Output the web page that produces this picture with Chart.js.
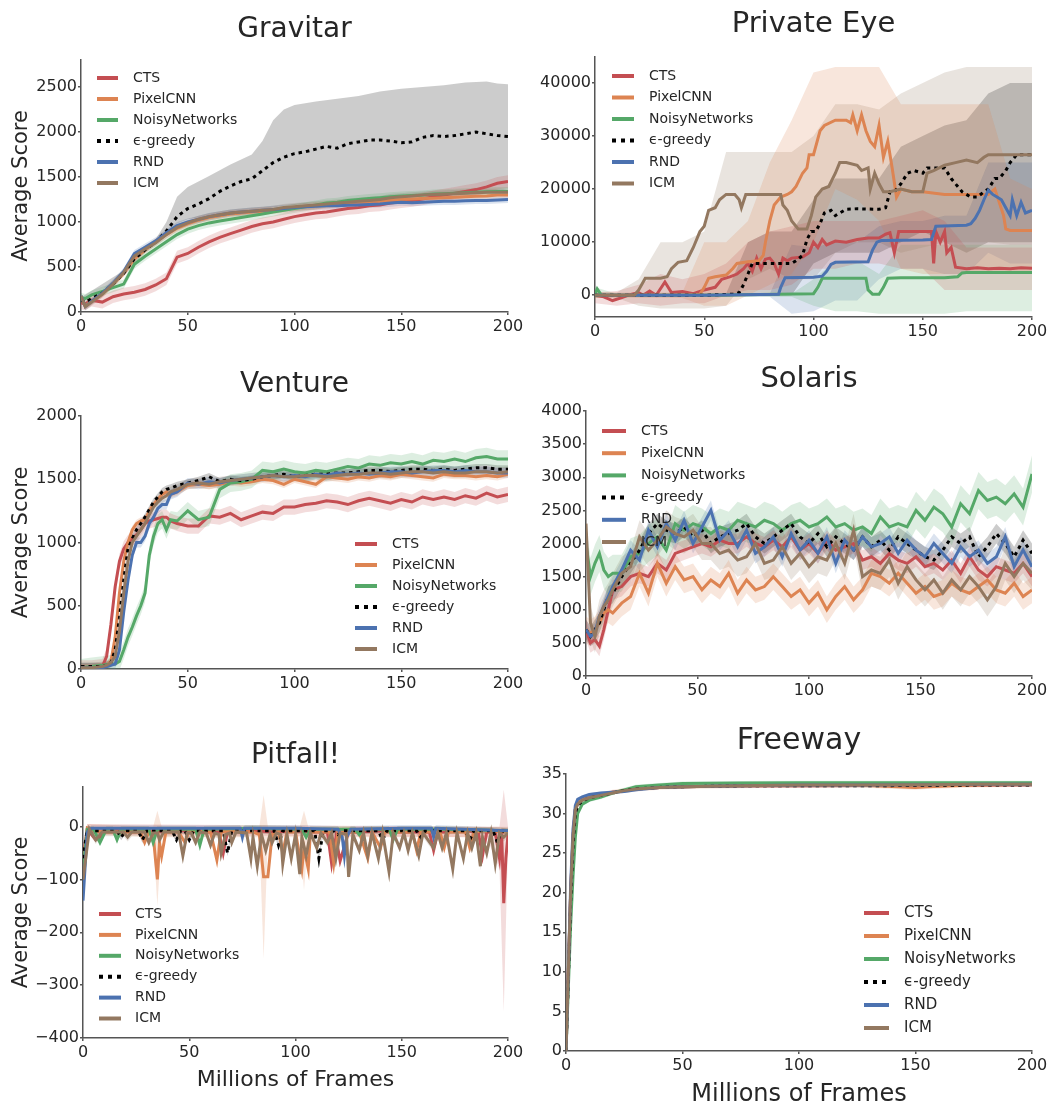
<!DOCTYPE html>
<html>
<head>
<meta charset="utf-8">
<script src="https://cdn.jsdelivr.net/npm/chart.js@4.4.0/dist/chart.umd.min.js"></script>
<style>
  body { margin: 0; background: #fff; }
  #wrap { position: relative; width: 1063px; height: 1111px; }
  canvas { position: absolute; }
</style>
</head>
<body>
<div id="wrap">
  <canvas id="gravitar" width="530" height="345" style="left:0;top:0"></canvas>
  <canvas id="privateeye" width="533" height="345" style="left:530px;top:0"></canvas>
  <canvas id="venture" width="530" height="345" style="left:0;top:355px"></canvas>
  <canvas id="solaris" width="533" height="345" style="left:530px;top:355px"></canvas>
  <canvas id="pitfall" width="530" height="406" style="left:0;top:705px"></canvas>
  <canvas id="freeway" width="533" height="406" style="left:530px;top:705px"></canvas>
</div>
<script>
// series shared by every panel
const seriesNames = ["CTS", "PixelCNN", "NoisyNetworks", "ϵ-greedy", "RND", "ICM"];
const seriesColors = ["#C44E52", "#DD8452", "#55A868", "#000000", "#4C72B0", "#937860"];
const xTicks = [0, 50, 100, 150, 200];

//GRAVITAR
const gravX = [0,2,5,10,15,20,25,30,35,40,45,50,55,60,65,70,75,80,85,90,95,100,105,110,115,120,125,130,135,140,145,150,155,160,165,170,175,180,185,190,195,200];
const gravCTS = [100,90,130,110,170,200,220,250,300,370,610,650,720,780,830,870,910,950,980,1000,1030,1060,1080,1100,1110,1130,1150,1160,1180,1190,1210,1225,1240,1255,1280,1300,1320,1340,1360,1390,1430,1450];
const gravPixel = [150,70,120,200,310,430,590,690,780,860,930,980,1020,1050,1070,1090,1100,1110,1120,1130,1140,1160,1170,1180,1190,1200,1210,1215,1220,1230,1240,1250,1255,1260,1265,1270,1275,1280,1285,1290,1300,1300];
const gravNoisy = [160,150,190,230,270,310,530,620,700,780,860,920,960,990,1010,1030,1050,1070,1090,1110,1130,1150,1170,1190,1210,1220,1240,1250,1260,1270,1280,1290,1295,1300,1310,1315,1320,1325,1330,1335,1340,1340];
const gravEps = [130,110,150,210,310,430,590,690,780,900,1060,1150,1200,1260,1340,1400,1450,1480,1570,1660,1720,1760,1780,1810,1840,1820,1870,1890,1910,1910,1900,1880,1890,1940,1960,1950,1960,1980,2000,1980,1960,1950];
const gravRND = [180,60,120,210,320,450,650,720,790,880,960,1000,1030,1060,1080,1100,1110,1120,1130,1140,1150,1160,1170,1175,1180,1180,1185,1190,1195,1200,1210,1220,1215,1220,1225,1230,1230,1235,1240,1240,1245,1250];
const gravICM = [180,60,110,200,310,440,620,700,770,860,940,990,1030,1060,1080,1100,1110,1120,1130,1140,1160,1170,1180,1190,1200,1210,1220,1230,1240,1250,1270,1280,1290,1300,1305,1310,1315,1320,1325,1330,1330,1330];
const gravEpsBandX = [0,20,30,35,40,45,50,60,70,80,85,90,95,100,110,120,130,140,150,160,170,180,190,195,200];
const gravEpsHi = [160,460,720,810,1000,1280,1390,1510,1640,1750,1900,2130,2250,2300,2340,2370,2400,2450,2480,2500,2520,2550,2560,2540,2530];
const gravEpsLo = [100,400,660,750,860,980,1030,1070,1100,1120,1140,1160,1180,1190,1210,1230,1260,1280,1300,1310,1320,1330,1340,1350,1360];
const gravSpread = [70, 40, 50, 0, 40, 40];
const gravYTicks = [0, 500, 1000, 1500, 2000, 2500];

//PRIVATE EYE
const peCTSX = [0,4,8,12,15,20,22,25,28,32,35,40,45,50,55,58,62,65,68,70,72,74,76,78,80,82,84,86,88,90,95,98,100,102,104,106,110,115,120,125,130,133,135,137,139,145,150,154,155,156,158,160,161,163,165,170,175,180,185,190,195,200];
const peCTS = [0,-300,-1000,-500,0,500,0,800,0,2500,500,700,300,1000,1500,3000,3500,4000,5000,6000,4500,7000,5000,6800,7000,6000,4000,7000,6500,7000,7200,8000,10000,9000,10500,9500,10200,10000,10500,10800,10800,11500,11800,8000,12000,12000,12000,12000,6000,12000,10000,12000,8000,9000,5300,5000,5200,5000,5100,5000,5200,5100];
const pePixelX = [0,10,20,30,40,48,50,52,55,60,63,65,70,75,77,78,80,82,85,88,90,92,95,97,98,100,103,105,110,115,117,118,120,122,124,126,128,130,132,134,136,138,140,145,150,160,170,180,183,185,187,188,190,195,200];
const pePixel = [0,0,0,0,0,200,1500,3200,3500,3800,5000,6000,6300,6500,7500,10000,14000,17000,18500,19000,19500,20500,23000,24000,26500,26500,31000,32000,33000,33000,32500,34000,31000,34000,31000,29000,28000,32000,26000,29000,24000,18500,20000,19500,19500,19000,19000,19000,20000,17500,15000,12500,12200,12200,12200];
const peNoisyX = [0,1,3,10,50,100,102,104,110,120,124,125,127,130,132,134,140,160,166,168,170,180,190,200];
const peNoisy = [200,1200,0,0,0,300,1500,3200,3200,3200,3200,1000,200,200,1500,3200,3300,3300,3500,4200,4300,4300,4300,4300];
const peEpsX = [0,10,50,64,66,68,70,72,75,90,92,95,97,99,101,103,105,108,110,112,115,120,130,133,135,137,140,143,146,150,152,155,160,163,165,168,172,175,178,180,183,185,188,190,193,195,200];
const peEps = [0,0,0,200,500,2000,4000,6000,6000,6000,6500,7500,10500,12000,12000,13500,15500,16000,15000,15500,16200,16300,16200,16500,19500,19500,21000,23000,23500,23000,24000,24000,24000,22000,21000,19500,18500,18500,19500,20000,22000,22000,23500,25000,26500,26500,26500];
const peRNDX = [0,10,50,84,85,87,100,104,106,108,110,125,127,129,131,150,154,156,170,172,174,176,178,180,182,184,186,188,190,191,193,195,197,200];
const peRND = [0,0,0,200,1500,3300,3400,3600,4500,5800,6200,6300,8500,10000,10300,10400,10500,13000,13200,13500,14500,16000,18000,19800,19000,18500,18000,16500,15000,18000,15000,17500,15500,16000];
const peICMX = [0,18,20,23,30,33,35,38,42,45,48,50,52,55,57,60,64,66,67,69,75,85,86,88,90,93,97,99,101,104,107,110,112,115,120,122,125,126,128,130,132,135,140,145,150,152,155,160,165,170,175,178,180,190,200];
const peICM = [0,0,1000,3200,3200,3500,5000,6200,6500,9000,12000,13000,16000,16500,18000,19000,19000,18000,16500,19000,19000,19000,17000,16000,14000,12500,12500,15000,18500,20000,20500,23000,25000,25000,24500,23500,24000,20000,23000,21000,19500,19500,20000,19500,19500,23000,23500,24500,25000,25500,25000,26000,26500,26500,26500];
const peBandX = [0,10,20,30,40,50,60,70,80,90,100,110,120,130,140,150,160,170,180,190,200];
const peCTSHi = [500,800,2000,4000,3000,4000,6000,10000,12000,13000,14000,14000,14000,14000,15000,16000,14000,9000,9000,9000,9000];
const peCTSLo = [-1500,-2000,-1500,-2000,-1500,-1500,0,1000,1000,2000,5000,5000,6000,6000,5000,5000,1000,1000,1000,1000,1000];
const pePixelHi = [500,500,500,500,500,10000,10000,14000,25000,33000,42000,43000,43000,43000,36000,36000,36000,36000,36000,22000,20000];
const pePixelLo = [-500,-500,-500,-500,-500,-2000,-2000,0,2000,4000,10000,20000,18000,14000,5000,4000,4000,4000,4000,4000,4000];
const peNoisyHi = [1500,300,300,300,300,300,300,300,300,300,3000,6500,6500,4000,9500,9500,9500,9500,9500,9500,9500];
const peNoisyLo = [-500,-300,-300,-300,-300,-300,-300,-300,-300,-300,-2000,-3000,-3000,-3500,-3500,-3500,-3500,-3000,-3000,-3000,-3000];
const peEpsHi = [300,300,300,300,300,300,300,10000,12000,12000,18000,22000,22000,22000,28000,30000,32000,33000,38000,40000,40000];
const peEpsLo = [-300,-300,-300,-300,-300,-300,-300,0,0,0,6000,8000,8000,8000,10000,12000,10000,8000,10000,10000,10000];
const peRNDHi = [300,300,300,300,300,300,300,300,300,9500,9000,10000,10000,13000,14000,14000,15000,15000,25000,25000,25000];
const peRNDLo = [-300,-300,-300,-300,-300,-300,-300,-300,-300,-3500,-3000,-1000,-1000,3000,5000,5000,4000,4000,8000,6000,6000];
const peICMHi = [500,500,3000,10000,10000,12000,27000,27000,27000,27000,30000,36000,36000,35000,38000,40000,42000,43000,43000,43000,43000];
const peICMLo = [-500,-500,-2000,-2500,-2500,-2500,-2000,3000,5000,3000,3000,8000,10000,10000,8000,9000,10000,10000,10000,9500,9500];
const peYTicks = [0, 10000, 20000, 30000, 40000];

//VENTURE
const ventX = [0,5,10,12,14,16,18,20,22,24,26,28,30,32,34,36,38,40,42,45,50,55,60,65,70,75,80,85,90,95,100,105,110,115,120,125,130,135,140,145,150,155,160,165,170,175,180,185,190,195,200];
const ventCTS = [10,10,20,100,350,650,850,950,1000,1030,1060,1100,1150,1170,1180,1190,1200,1200,1170,1150,1130,1130,1210,1200,1230,1180,1210,1240,1230,1280,1280,1300,1310,1330,1320,1300,1330,1350,1330,1310,1340,1320,1360,1340,1360,1340,1370,1350,1390,1360,1380];
const ventPixel = [10,10,20,30,60,250,600,850,1000,1100,1150,1170,1180,1250,1300,1340,1380,1400,1380,1400,1450,1460,1450,1460,1480,1470,1480,1500,1490,1460,1500,1480,1460,1520,1510,1500,1520,1510,1530,1520,1540,1530,1520,1510,1540,1530,1530,1520,1530,1520,1540];
const ventNoisy = [10,20,30,35,40,40,60,150,250,330,420,500,600,900,1050,1150,1180,1100,1180,1170,1250,1180,1200,1420,1470,1480,1500,1570,1560,1580,1560,1550,1570,1560,1580,1600,1590,1620,1610,1630,1620,1640,1620,1650,1640,1660,1640,1670,1680,1660,1660];
const ventEps = [20,20,20,30,50,150,400,700,950,1030,1100,1150,1200,1260,1320,1360,1400,1420,1430,1450,1470,1490,1520,1480,1500,1490,1500,1520,1530,1540,1520,1530,1540,1540,1550,1550,1560,1570,1570,1560,1570,1580,1580,1570,1580,1570,1580,1590,1590,1580,1580];
const ventRND = [10,10,10,20,30,40,150,450,700,900,1000,1000,1050,1150,1200,1270,1300,1300,1380,1400,1470,1460,1480,1470,1490,1500,1510,1520,1530,1520,1530,1520,1540,1530,1550,1540,1550,1540,1550,1560,1560,1550,1560,1570,1570,1560,1570,1560,1560,1550,1550];
const ventICM = [10,10,20,30,50,100,300,600,850,1000,1050,1100,1150,1220,1280,1320,1350,1370,1400,1420,1460,1470,1460,1480,1490,1500,1510,1520,1530,1520,1520,1530,1530,1520,1530,1540,1540,1550,1550,1540,1550,1560,1560,1550,1560,1550,1550,1560,1560,1550,1560];
const ventSpread = [60, 30, 70, 30, 40, 40];
const ventYTicks = [0, 500, 1000, 1500, 2000];

//SOLARIS
const solX = [0,2,4,6,8,10,12,16,20,24,28,32,36,40,44,48,52,56,60,64,68,72,76,80,84,88,92,96,100,104,108,112,116,120,124,128,132,136,140,144,148,152,156,160,164,168,172,176,180,184,188,192,196,200];
const solCTS = [700,500,550,450,700,1000,1300,1350,1500,1550,1500,1700,1600,1850,1900,1950,2000,1950,2050,2000,2000,2100,2000,1950,2050,1950,2100,1900,2000,1850,2050,1900,1950,2000,1750,1800,1700,1850,1750,1700,1800,1650,1700,1600,1750,1550,1800,1600,1500,1650,1600,1550,1700,1500];
const solPixel = [700,650,700,800,950,1000,950,1100,1200,1550,1250,1700,1400,1650,1450,1500,1300,1450,1350,1550,1250,1450,1300,1350,1500,1350,1200,1300,1100,1250,1000,1200,1350,1150,1300,1550,1500,1400,1550,1400,1250,1350,1200,1250,1400,1300,1250,1350,1450,1300,1250,1400,1200,1300];
const solNoisy = [2000,1500,1700,1850,1600,1500,1550,1550,1800,1850,2000,2100,1900,2300,2200,2300,2250,2150,2250,2200,2350,2300,2250,2350,2300,2200,2300,2350,2250,2300,2400,2250,2300,2200,2250,2150,2400,2250,2300,2250,2500,2350,2550,2450,2250,2600,2450,2800,2650,2700,2600,2750,2550,3050];
const solEps = [700,600,700,800,1000,1200,1250,1500,1700,1900,2150,2300,2200,2150,2250,2100,2200,2000,2100,2150,2200,2300,2100,2000,2100,2200,2300,2100,2000,2150,1950,2100,2000,1900,2100,1950,2050,1900,2100,2000,1900,1800,1750,1900,2100,2000,2100,1800,1950,2150,2000,1800,2050,1850];
const solRND = [700,600,650,900,1050,1200,1350,1600,1900,1750,2200,1950,2300,2050,2350,2000,2250,2500,2050,2200,1950,2200,1850,1950,2100,1800,2150,1900,2050,1850,2100,1700,2050,1900,2100,1950,2000,2100,1850,2050,1900,1800,2000,1850,1700,1950,1800,1900,1700,1800,2100,1650,1900,1650];
const solICM = [2300,800,600,900,1050,1150,1300,1550,1650,2100,1900,2050,2250,2150,2100,2200,2000,2000,1850,1900,1750,1800,2000,1700,1750,1950,1700,1850,1650,1800,1750,2000,1700,2200,1500,1600,1550,1750,1400,1650,1450,1300,1450,1250,1450,1300,1500,1350,1150,1350,1700,1500,1700,1550];
const solSpread = [150, 200, 280, 150, 150, 250];
const solYTicks = [0, 500, 1000, 1500, 2000, 2500, 3000, 3500, 4000];

//PITFALL
const pitCTSX = [0,2,4,6,8,10,20,30,40,50,60,64,66,68,70,80,90,100,110,115,117,119,121,125,130,140,150,160,163,165,167,170,180,186,188,190,194,196,197,198,199,200];
const pitCTS = [-60,-5,-15,-25,-20,-8,-8,-10,-8,-8,-10,-10,-50,-10,-8,-8,-10,-8,-10,-10,-70,-20,-65,-10,-10,-8,-10,-10,-10,-45,-10,-10,-8,-10,-55,-10,-10,-60,-10,-145,-60,-15];
const pitPixelX = [0,2,4,10,20,27,29,31,33,35,36,37,39,45,48,50,60,63,65,70,80,83,85,87,89,92,94,96,100,103,104,106,107,110,116,118,120,130,134,136,140,142,150,155,157,159,168,170,172,180,182,184,190,200];
const pitPixel = [-80,-3,-8,-10,-10,-10,-30,-10,-15,-100,-30,-55,-10,-10,-30,-8,-10,-63,-10,-8,-10,-15,-95,-95,-15,-10,-50,-10,-10,-80,-40,-80,-10,-10,-10,-70,-10,-10,-60,-10,-40,-10,-10,-10,-45,-10,-10,-40,-10,-10,-40,-10,-8,-10];
const pitNoisyX = [0,2,5,8,11,14,16,18,25,31,33,35,50,53,55,57,80,100,103,105,107,125,128,130,132,144,146,148,170,200];
const pitNoisy = [-80,-5,-5,-30,-5,-5,-25,-5,-5,-5,-30,-5,-5,-5,-35,-5,-3,-5,-5,-20,-5,-5,-5,-15,-5,-5,-25,-5,-5,-8];
const pitEpsX = [0,2,5,16,18,20,26,28,30,42,44,46,48,50,52,66,68,70,90,92,94,109,111,113,118,120,122,139,141,143,157,159,161,180,182,184,193,195,197,200];
const pitEps = [-60,-5,-8,-8,-20,-8,-8,-25,-8,-8,-25,-8,-8,-25,-8,-8,-50,-8,-8,-35,-8,-8,-60,-8,-8,-15,-8,-8,-25,-8,-8,-20,-8,-8,-25,-8,-8,-30,-8,-10];
const pitRNDX = [0,2,4,20,40,60,74,75,76,100,120,122,123,124,126,150,164,165,166,200];
const pitRND = [-140,-10,-3,-3,-3,-3,-3,-20,-3,-3,-5,-20,-55,-20,-5,-3,-3,-20,-3,-8];
const pitICMX = [0,3,6,9,19,21,23,29,31,33,35,36,38,45,47,49,51,53,55,58,60,62,64,65,67,69,70,72,77,79,80,82,84,86,88,89,91,93,94,96,98,100,102,103,105,107,110,112,115,117,119,121,124,125,127,130,132,134,136,139,141,144,146,149,151,153,155,158,160,165,167,169,171,174,176,179,181,183,185,187,188,190,192,194,196,198,200];
const pitICM = [-100,-5,-25,-10,-10,-20,-10,-10,-30,-12,-12,-25,-10,-10,-55,-12,-12,-30,-10,-12,-35,-12,-15,-50,-15,-12,-30,-10,-12,-60,-20,-75,-15,-45,-15,-30,-12,-15,-70,-15,-60,-15,-90,-20,-55,-12,-40,-12,-30,-12,-60,-12,-15,-95,-15,-45,-12,-55,-12,-60,-12,-85,-12,-40,-12,-45,-12,-55,-12,-40,-12,-40,-12,-80,-12,-60,-12,-40,-12,-75,-20,-50,-12,-70,-12,-20,-12];
const pitPixelBandX = [0,2,33,35,37,83,85,87,102,104,106,200];
const pitPixelHi = [-60,5,0,30,0,0,60,0,0,30,0,0];
const pitPixelLo = [-100,-15,-20,-150,-20,-20,-250,-20,-20,-120,-20,-20];
const pitCTSBandX = [0,2,190,196,198,200];
const pitCTSHi = [-40,5,0,0,70,0];
const pitCTSLo = [-80,-15,-20,-80,-350,-30];
const pitSpread = [0, 0, 6, 6, 6, 8];
const pitYTicks = [-400, -300, -200, -100, 0];

//FREEWAY
const freeX = [0,1,2,3,4,5,7,10,15,20,25,30,40,50,75,100,125,150,155,175,200];
const freeCTS = [0,10,20,27,30.5,31.3,31.8,32.1,32.4,32.7,32.9,33.1,33.3,33.4,33.5,33.5,33.55,33.6,33.6,33.6,33.65];
const freePixel = [0,10,20,27,30.5,31.3,31.8,32.1,32.4,32.7,32.9,33.1,33.3,33.4,33.5,33.6,33.6,33.3,33.4,33.6,33.7];
const freeNoisy = [0,8,16,22,27,30,31.2,31.7,32.1,32.6,33.0,33.4,33.6,33.8,33.85,33.9,33.9,33.9,33.9,33.9,33.9];
const freeEps = [0,9,19,26,30,31,31.6,32,32.3,32.6,32.9,33.1,33.3,33.4,33.5,33.5,33.5,33.55,33.55,33.6,33.6];
const freeRND = [0,10,21,28,31,31.8,32.1,32.4,32.6,32.7,32.8,33.0,33.3,33.4,33.5,33.6,33.6,33.65,33.65,33.7,33.7];
const freeICM = [0,10,20,27,30.5,31.2,31.7,32.0,32.3,32.6,32.9,33.1,33.3,33.4,33.5,33.6,33.6,33.65,33.65,33.7,33.7];
const freeSpread = [0.2, 0.3, 0.25, 0.2, 0.2, 0.2];
const freeYTicks = [0, 5, 10, 15, 20, 25, 30, 35];

const FONT = '"DejaVu Sans", sans-serif';
const TEXT = "#262626";
const AXIS = "#555555";

function fade(hex, a) {
  const n = parseInt(hex.slice(1), 16);
  return `rgba(${(n >> 16) & 255}, ${(n >> 8) & 255}, ${n & 255}, ${a})`;
}

function toPoints(xs, ys) {
  return xs.map((x, i) => ({ x: x, y: ys[i] }));
}

function fmt(v) {
  return v < 0 ? "\u2212" + Math.abs(v) : String(v);
}

// legend drawn inside the plot, where the original had it
const legendSpots = {
  gravitar:   { x0: 97,  x1: 118, tx: 133, top: 78,  step: 21,   size: 14 },
  privateeye: { x0: 82,  x1: 104, tx: 119, top: 76,  step: 21.5, size: 14 },
  venture:    { x0: 355, x1: 377, tx: 392, top: 189, step: 21,   size: 14 },
  solaris:    { x0: 72,  x1: 96,  tx: 111, top: 76,  step: 22.2, size: 14 },
  pitfall:    { x0: 99,  x1: 121, tx: 135, top: 209, step: 20.9, size: 14 },
  freeway:    { x0: 334, x1: 359, tx: 374, top: 208, step: 23,   size: 15 }
};

const insideLegend = {
  id: "insideLegend",
  afterDatasetsDraw(chart) {
    const spot = legendSpots[chart.canvas.id];
    const ctx = chart.ctx;
    ctx.save();
    ctx.font = spot.size + "px " + FONT;
    ctx.textBaseline = "middle";
    seriesNames.forEach((name, i) => {
      const y = spot.top + i * spot.step;
      ctx.beginPath();
      ctx.lineWidth = 4;
      ctx.lineCap = "butt";
      ctx.strokeStyle = seriesColors[i];
      ctx.setLineDash(i === 3 ? [4, 5] : []);
      ctx.moveTo(spot.x0, y);
      ctx.lineTo(spot.x1, y);
      ctx.stroke();
      ctx.setLineDash([]);
      ctx.fillStyle = TEXT;
      ctx.fillText(name, spot.tx, y);
    });
    ctx.restore();
  }
};

function buildDatasets(lines, bands) {
  const sets = [];
  bands.forEach((b, i) => {
    if (!b) return;
    let lo, hi;
    if (b.spread !== undefined) {
      lo = toPoints(lines[i].x, lines[i].y.map(v => v - b.spread));
      hi = toPoints(lines[i].x, lines[i].y.map(v => v + b.spread));
    } else {
      lo = toPoints(b.x, b.lo);
      hi = toPoints(b.x, b.hi);
    }
    sets.push({ data: lo, borderColor: "rgba(0,0,0,0)", borderWidth: 0, pointRadius: 0, fill: false, order: 10 });
    sets.push({ data: hi, borderColor: "rgba(0,0,0,0)", borderWidth: 0, pointRadius: 0, fill: "-1",
                backgroundColor: fade(seriesColors[i], 0.2), order: 10 });
  });
  lines.forEach((l, i) => {
    sets.push({
      label: seriesNames[i],
      data: toPoints(l.x, l.y),
      borderColor: seriesColors[i],
      borderWidth: 3,
      borderDash: i === 3 ? [3.5, 4] : [],
      borderCapStyle: "butt",
      pointRadius: 0,
      tension: 0,
      fill: false,
      order: 5 - i
    });
  });
  return sets;
}

function spreadBands(spreads) {
  return spreads.map(s => (s > 0 ? { spread: s } : null));
}

function makeChart(p) {
  const canvas = document.getElementById(p.id);
  new Chart(canvas, {
    type: "line",
    data: { datasets: buildDatasets(p.lines, p.bands) },
    options: {
      responsive: false,
      animation: false,
      events: [],
      layout: { padding: p.pad },
      scales: {
        x: {
          type: "linear", min: 0, max: 200,
          afterBuildTicks: s => { s.ticks = xTicks.map(v => ({ value: v })); },
          afterFit: s => { s.height = p.xH; },
          ticks: { font: { family: FONT, size: 16 }, color: TEXT, padding: 2, maxRotation: 0, autoSkip: false, callback: fmt },
          grid: { drawOnChartArea: false, tickLength: 3, color: AXIS, lineWidth: 1.5 },
          border: { color: AXIS, width: 1.5 },
          title: p.xTitle
            ? { display: true, text: "Millions of Frames", color: TEXT,
                font: { family: FONT, size: p.xTitle.size }, padding: { top: 0, bottom: p.xTitle.pad } }
            : { display: false }
        },
        y: {
          type: "linear", min: p.yMin, max: p.yMax,
          afterBuildTicks: s => { s.ticks = p.yTicks.map(v => ({ value: v })); },
          afterFit: s => { s.width = p.yW; },
          ticks: { font: { family: FONT, size: 16 }, color: TEXT, padding: 1, autoSkip: false, callback: fmt },
          grid: { drawOnChartArea: false, tickLength: 3, color: AXIS, lineWidth: 1.5 },
          border: { color: AXIS, width: 1.5 },
          title: p.yTitle
            ? { display: true, text: "Average Score", color: TEXT,
                font: { family: FONT, size: 21 }, padding: { top: 9, bottom: 0 } }
            : { display: false }
        }
      },
      plugins: {
        legend: { display: false },
        tooltip: { enabled: false },
        title: {
          display: true, text: p.title, fullSize: false, color: TEXT,
          font: { family: FONT, size: p.tSize, weight: "normal" },
          padding: { top: p.tPad[0], bottom: p.tPad[1] }
        }
      }
    },
    plugins: [insideLegend]
  });
}

makeChart({
  id: "gravitar", title: "Gravitar", tSize: 28, tPad: [13.2, 13.2],
  yMin: 0, yMax: 2800, yTicks: gravYTicks, yW: 81, xH: 28, yTitle: true,
  pad: { left: 0, right: 22, top: 0, bottom: 5 },
  lines: [
    { x: gravX, y: gravCTS }, { x: gravX, y: gravPixel }, { x: gravX, y: gravNoisy },
    { x: gravX, y: gravEps }, { x: gravX, y: gravRND }, { x: gravX, y: gravICM }
  ],
  bands: spreadBands(gravSpread).map((b, i) => (i === 3 ? { x: gravEpsBandX, lo: gravEpsLo, hi: gravEpsHi } : b))
});

makeChart({
  id: "privateeye", title: "Private Eye", tSize: 29, tPad: [6.6, 15.6],
  yMin: -4100, yMax: 44900, yTicks: peYTicks, yW: 65, xH: 25,
  pad: { left: 0, right: 31, top: 0, bottom: 3 },
  lines: [
    { x: peCTSX, y: peCTS }, { x: pePixelX, y: pePixel }, { x: peNoisyX, y: peNoisy },
    { x: peEpsX, y: peEps }, { x: peRNDX, y: peRND }, { x: peICMX, y: peICM }
  ],
  bands: [
    { x: peBandX, lo: peCTSLo, hi: peCTSHi }, { x: peBandX, lo: pePixelLo, hi: pePixelHi },
    { x: peBandX, lo: peNoisyLo, hi: peNoisyHi }, { x: peBandX, lo: peEpsLo, hi: peEpsHi },
    { x: peBandX, lo: peRNDLo, hi: peRNDHi }, { x: peBandX, lo: peICMLo, hi: peICMHi }
  ]
});

makeChart({
  id: "venture", title: "Venture", tSize: 28, tPad: [13.2, 14.2],
  yMin: 0, yMax: 2000, yTicks: ventYTicks, yW: 81, xH: 28, yTitle: true,
  pad: { left: 0, right: 22, top: 0, bottom: 3 },
  lines: [
    { x: ventX, y: ventCTS }, { x: ventX, y: ventPixel }, { x: ventX, y: ventNoisy },
    { x: ventX, y: ventEps }, { x: ventX, y: ventRND }, { x: ventX, y: ventICM }
  ],
  bands: spreadBands(ventSpread)
});

makeChart({
  id: "solaris", title: "Solaris", tSize: 29, tPad: [6.6, 14.6],
  yMin: 0, yMax: 4000, yTicks: solYTicks, yW: 56, xH: 22,
  pad: { left: 0, right: 31, top: 0, bottom: 2 },
  lines: [
    { x: solX, y: solCTS }, { x: solX, y: solPixel }, { x: solX, y: solNoisy },
    { x: solX, y: solEps }, { x: solX, y: solRND }, { x: solX, y: solICM }
  ],
  bands: spreadBands(solSpread)
});

makeChart({
  id: "pitfall", title: "Pitfall!", tSize: 28, tPad: [34.2, 14.2],
  yMin: -400, yMax: 75, yTicks: pitYTicks, yW: 83, xH: 60, yTitle: true,
  xTitle: { size: 22, pad: 4.8 },
  pad: { left: 0, right: 22, top: 0, bottom: 13 },
  lines: [
    { x: pitCTSX, y: pitCTS }, { x: pitPixelX, y: pitPixel }, { x: pitNoisyX, y: pitNoisy },
    { x: pitEpsX, y: pitEps }, { x: pitRNDX, y: pitRND }, { x: pitICMX, y: pitICM }
  ],
  bands: spreadBands(pitSpread).map((b, i) => {
    if (i === 0) return { x: pitCTSBandX, lo: pitCTSLo, hi: pitCTSHi };
    if (i === 1) return { x: pitPixelBandX, lo: pitPixelLo, hi: pitPixelHi };
    return b;
  })
});

makeChart({
  id: "freeway", title: "Freeway", tSize: 30, tPad: [18, 15],
  yMin: 0, yMax: 35, yTicks: freeYTicks, yW: 36, xH: 58,
  xTitle: { size: 24, pad: 0 },
  pad: { left: 0, right: 31, top: 0, bottom: 2 },
  lines: [
    { x: freeX, y: freeCTS }, { x: freeX, y: freePixel }, { x: freeX, y: freeNoisy },
    { x: freeX, y: freeEps }, { x: freeX, y: freeRND }, { x: freeX, y: freeICM }
  ],
  bands: spreadBands(freeSpread)
});
</script>
</body>
</html>
